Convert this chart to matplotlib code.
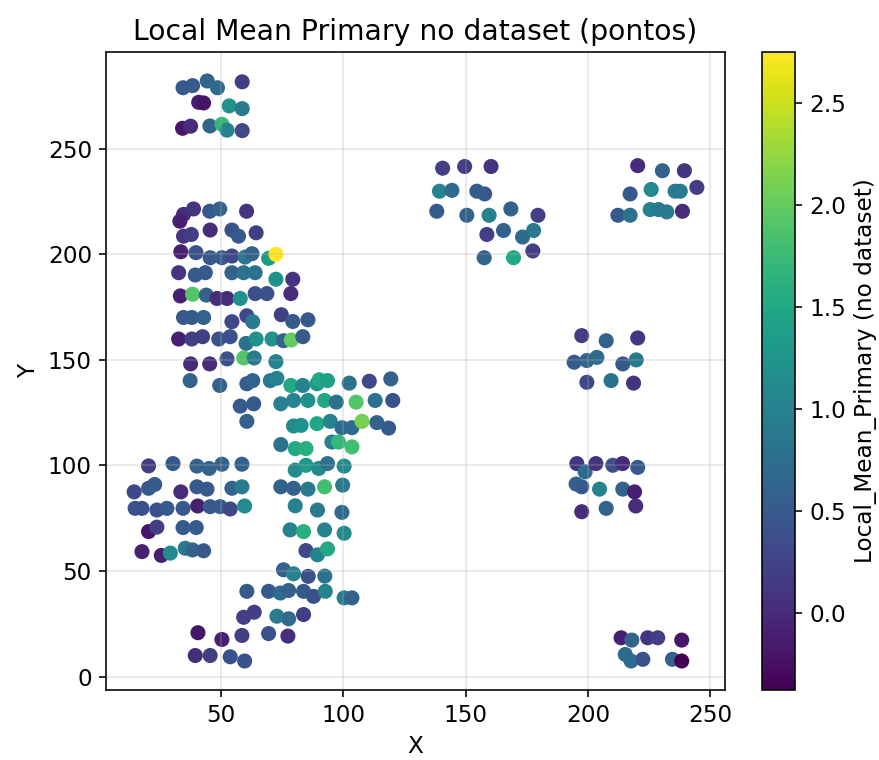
import numpy as np
import matplotlib
matplotlib.use('Agg')
import matplotlib.pyplot as plt

# point coordinates (X, Y) and Local_Mean_Primary values
x = [34.4, 38.3, 44.3, 48.5, 58.6, 40.8, 42.8, 53.3, 58.6, 34.2, 37.5, 45.4, 50.3, 52.4, 58.6,
     34.6, 38.7, 45.3, 49.4, 60.4, 33.1,
     34.6, 37.8, 45.5, 54.4, 57.1, 64.3,
     33.5, 39.7, 45.5, 50.3, 54.4, 59.8, 62.6, 69.4, 72.4,
     32.6, 39.4, 43.5, 54.4, 59.2, 63.9, 72.4, 79.3,
     33.3, 38.3, 43.9, 48.3, 52.4, 57.8, 63.9, 68.7, 78.5,
     34.6, 38.0, 42.8, 54.4, 60.5, 62.9, 74.6, 79.3, 85.5,
     32.6, 38.0, 42.4, 49.0, 53.7, 60.2, 64.3, 70.8, 75.5, 78.7, 83.4,
     37.5, 45.3, 52.4, 59.2, 63.5, 72.4,
     37.3, 49.4, 60.5, 62.9, 70.1, 72.8, 78.5, 83.4, 89.2, 90.1, 93.5, 102.4, 110.6, 119.4,
     57.8, 63.3, 74.4, 79.6, 85.5, 92.3, 97.1, 105.2, 113.0, 120.2,
     60.5, 79.6, 82.7, 89.2, 94.6, 99.4, 103.5, 107.6, 113.7, 118.5,
     74.4, 80.3, 84.7, 95.3, 98.0, 103.5,
     80.3, 84.7, 89.9, 93.5, 100.3,
     20.3, 30.3, 40.1, 45.1, 50.3, 58.5,
     14.4, 20.3, 22.8, 33.5, 40.1, 44.2, 54.4, 58.5,
     74.4, 79.6, 85.5, 92.3, 99.7,
     14.8, 17.6, 23.7, 27.8, 34.4, 40.4, 45.5, 49.6, 53.7, 59.6,
     80.3, 89.4, 99.4,
     20.3, 23.7, 34.4, 39.8,
     78.2, 83.7, 92.3, 100.3,
     17.6, 25.5, 29.2, 35.3, 38.3, 42.8,
     84.7, 89.4, 93.5,
     75.5, 79.6, 85.6, 92.4,
     60.5, 69.4, 74.2, 77.6, 83.7, 87.8, 92.6, 100.3, 103.5,
     59.2, 63.5, 72.8, 77.6, 83.7,
     40.5, 50.3, 58.5, 69.4, 77.3,
     39.4, 45.5, 53.7, 59.6,
     140.6, 149.6, 160.4, 139.3, 144.4, 154.6, 157.8, 138.2, 150.5, 159.6, 168.5, 179.6,
     158.7, 165.5, 173.3, 177.8, 157.6, 169.6, 177.5,
     220.4, 230.5, 239.5, 244.6, 217.3, 225.9, 235.7, 237.8,
     212.3, 217.3, 225.5, 228.9, 232.3, 238.7,
     197.5, 207.5, 220.4, 194.4, 199.6, 203.7, 214.3, 219.8, 199.6, 209.5, 218.7,
     195.5, 198.9, 203.3, 210.2, 214.2, 220.4, 195.2, 197.5, 204.8, 214.3, 219.1,
     197.5, 207.5, 219.6,
     213.6, 218.0, 224.5, 228.6, 238.4, 215.3, 217.7, 222.5, 234.6, 238.4]

y = [278.9, 279.9, 282.1, 278.9, 281.7, 272.0, 271.7, 270.3, 269.0, 259.7, 260.7, 260.8, 261.6, 258.8, 258.6,
     218.9, 221.5, 220.4, 221.5, 220.4, 215.7,
     208.6, 209.4, 211.5, 211.5, 208.6, 210.2,
     201.2, 200.8, 198.4, 198.4, 199.2, 198.7, 200.3, 198.1, 200.0,
     191.3, 190.2, 191.3, 191.3, 191.3, 191.3, 188.2, 188.2,
     180.3, 181.1, 180.7, 179.1, 179.1, 179.1, 181.4, 181.4, 181.4,
     170.1, 170.1, 170.1, 168.1, 170.9, 168.1, 171.4, 168.2, 169.0,
     159.9, 159.9, 161.0, 159.9, 161.0, 157.8, 159.9, 159.9, 159.1, 159.4, 161.0,
     148.1, 148.1, 150.5, 150.9, 150.9, 149.2,
     140.2, 137.9, 138.7, 140.2, 140.2, 141.3, 137.9, 137.9, 138.7, 140.6, 140.2, 139.0, 139.9, 141.0,
     128.1, 129.2, 129.2, 130.8, 130.8, 130.8, 130.0, 130.0, 130.8, 130.8,
     120.9, 118.7, 119.0, 119.8, 120.9, 117.9, 117.9, 120.9, 120.3, 117.7,
     109.9, 108.0, 108.0, 111.1, 111.1, 108.8,
     97.8, 100.1, 98.6, 100.9, 99.7,
     99.8, 100.9, 99.7, 98.6, 100.6, 100.6,
     87.5, 89.2, 91.0, 87.5, 89.9, 88.8, 89.2, 89.9,
     89.9, 89.2, 88.8, 89.9, 90.7,
     79.7, 79.7, 78.9, 79.7, 79.7, 80.8, 80.5, 80.5, 79.4, 80.8,
     80.9, 78.9, 77.8,
     68.7, 70.8, 70.6, 70.6,
     69.5, 68.7, 69.5, 67.9,
     59.2, 57.4, 58.5, 60.8, 60.0, 59.6,
     59.7, 57.7, 60.5,
     50.6, 48.7, 47.5, 47.6,
     40.4, 40.4, 39.6, 40.8, 40.4, 38.0, 40.4, 37.3, 37.3,
     28.1, 30.5, 28.6, 27.4, 29.4,
     20.8, 17.6, 19.5, 20.4, 19.2,
     10.0, 10.0, 9.4, 7.4,
     240.8, 241.6, 241.6, 229.9, 230.3, 229.9, 228.6, 220.4, 218.5, 218.5, 221.5, 218.5,
     209.4, 211.3, 208.2, 211.3, 198.4, 198.4, 201.6,
     242.0, 239.6, 239.6, 231.7, 228.6, 230.7, 229.9, 229.9,
     218.5, 218.5, 221.2, 221.2, 220.1, 220.4,
     161.5, 159.1, 160.4, 148.9, 149.7, 151.2, 148.1, 150.0, 139.4, 140.2, 139.0,
     100.9, 97.0, 100.9, 100.1, 100.9, 99.1, 91.2, 89.9, 88.8, 88.8, 87.5,
     78.1, 79.7, 80.8,
     18.4, 17.3, 18.4, 18.4, 17.3, 10.5, 7.4, 8.2, 8.2, 7.4]

local_mean = [0.5, 0.5, 0.6, 0.7, 0.2, -0.1, -0.2, 1.2, 0.9, -0.2, 0.0, 0.6, 1.7, 1.0, 0.3,
              0.0, 0.1, 0.5, 0.6, 0.1, -0.1,
              0.1, 0.2, 0.0, 0.4, 0.5, 0.2,
              -0.1, 0.4, 0.5, 0.5, 0.3, 0.9, 0.6, 1.3, 2.75,
              0.1, 0.5, 0.5, 0.6, 0.8, 0.8, 1.2, 0.1,
              -0.1, 1.9, 0.6, 0.0, 0.0, 1.2, 0.4, 0.4, 0.0,
              0.5, 0.5, 0.6, 0.3, 0.3, 0.9, 0.2, 0.5, 0.5,
              -0.1, 0.2, 0.2, 0.4, 0.4, 0.8, 1.2, 1.2, 0.6, 2.0, 0.5,
              0.0, 0.0, 0.4, 1.9, 0.9, 1.0,
              0.6, 0.6, 0.5, 0.6, 0.9, 1.0, 1.5, 1.0, 1.3, 1.5, 1.4, 0.8, 0.3, 0.6,
              0.5, 0.5, 1.0, 1.0, 1.2, 1.5, 0.8, 1.9, 0.8, 0.4,
              0.6, 1.1, 1.2, 1.5, 1.0, 0.7, 0.7, 2.1, 0.6, 0.5,
              0.8, 1.5, 1.6, 1.0, 1.7, 1.8,
              1.1, 1.3, 1.1, 0.8, 1.1,
              0.2, 0.5, 0.6, 0.6, 0.6, 0.6,
              0.3, 0.5, 0.5, 0.0, 0.5, 0.5, 0.6, 0.9,
              0.6, 0.6, 0.9, 1.8, 0.9,
              0.4, 0.4, 0.4, 0.5, 0.5, -0.1, 0.5, 0.5, 0.3, 1.1,
              1.0, 0.9, 0.7,
              -0.2, 0.2, 0.5, 0.5,
              1.0, 1.6, 1.0, 1.1,
              -0.1, -0.1, 1.1, 0.9, 0.6, 0.5,
              0.3, 1.0, 1.5,
              0.6, 1.0, 0.4, 0.8,
              0.5, 0.5, 0.7, 0.6, 0.5, 0.4, 1.0, 0.9, 0.6,
              0.2, 0.2, 0.9, 0.7, 0.2,
              -0.2, -0.1, 0.2, 0.4, 0.0,
              0.0, 0.2, 0.4, 0.4,
              0.2, 0.2, 0.1, 1.0, 0.7, 0.5, 0.5, 0.5, 0.6, 1.0, 0.6, 0.2,
              0.2, 0.6, 0.7, 0.9, 0.6, 1.5, 0.2,
              0.0, 0.6, 0.1, 0.2, 0.5, 1.1, 0.9, 0.9,
              0.5, 0.8, 1.0, 0.9, 0.9, 0.0,
              0.2, 0.6, 0.1, 0.5, 0.6, 0.7, 0.5, 0.9, 0.3, 0.8, 0.1,
              0.1, 0.7, 0.1, 0.4, 0.0, 0.5, 0.6, 0.5, 1.0, 0.6, -0.1,
              0.0, 0.6, 0.0,
              -0.1, 0.6, 0.1, 0.2, -0.2, 0.7, 0.7, 0.4, 0.6, -0.38]

plt.rcParams['font.size'] = 11.5

fig = plt.figure(figsize=(879 / 145, 760 / 145), dpi=145)
ax = fig.add_axes([0.1206, 0.0921, 0.7042, 0.8395])
cax = fig.add_axes([0.8669, 0.0921, 0.0375, 0.8395])

sc = ax.scatter(x, y, c=local_mean, cmap='viridis', s=42)
ax.set_title('Local Mean Primary no dataset (pontos)', fontsize=14)
ax.set_xlabel('X')
ax.set_ylabel('Y')
ax.grid(True, alpha=0.3)

cb = fig.colorbar(sc, cax=cax)
cb.set_label('Local_Mean_Primary (no dataset)')

fig.savefig('out.png', dpi=145)
